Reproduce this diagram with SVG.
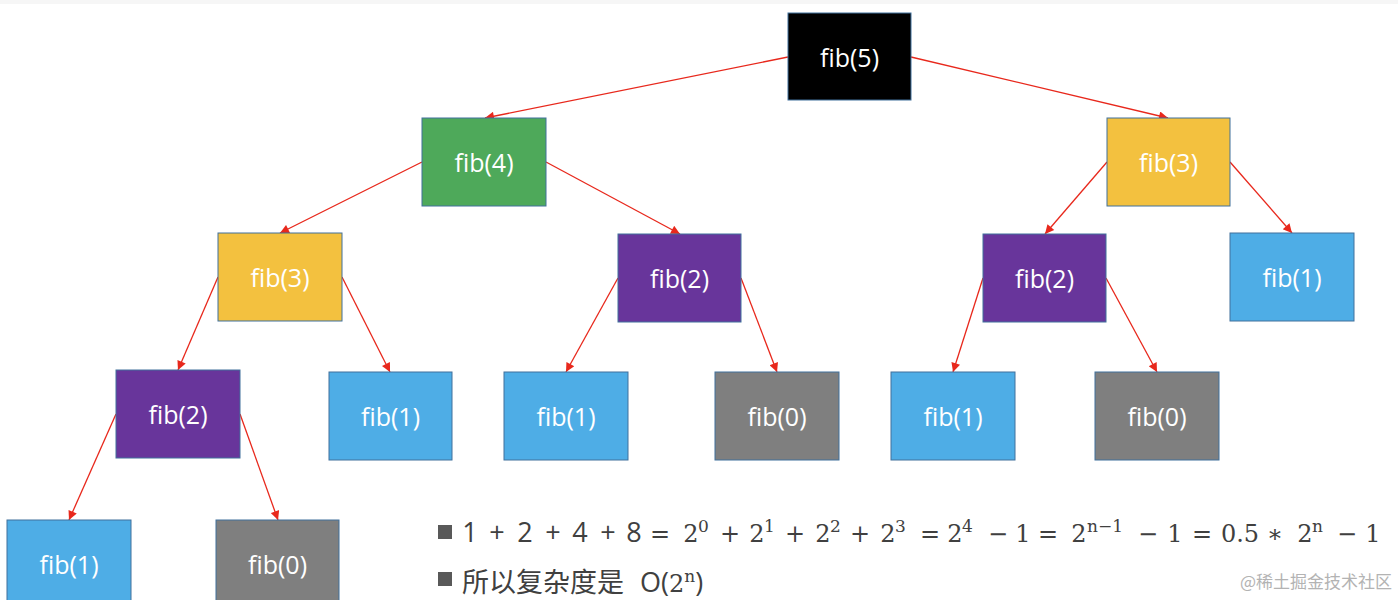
<svg xmlns="http://www.w3.org/2000/svg" width="1398" height="600" viewBox="0 0 1398 600">
<style>
.box{stroke:#41719c;stroke-width:1}
.lbl{font-family:"Open Sans","Noto Sans",sans-serif;font-size:25px;fill:#ffffff;text-anchor:middle;dominant-baseline:central}
.edge{stroke:#e8281c;stroke-width:1.3;fill:none;marker-end:url(#ah)}
.m{font-family:"DejaVu Serif","Liberation Serif",serif;font-size:24px;fill:#404040;text-anchor:middle}
.s{font-family:"Open Sans","Noto Sans",sans-serif;font-size:27px;fill:#404040;text-anchor:middle}
.sup{font-family:"DejaVu Serif","Liberation Serif",serif;font-size:17px;fill:#404040}
.bul{fill:#595959}
</style>
<defs>
<marker id="ah" viewBox="0 0 10 10" refX="10" refY="5" markerWidth="11" markerHeight="9" markerUnits="userSpaceOnUse" orient="auto">
<path d="M0,0 L10,5 L0,10 z" fill="#e8281c"/>
</marker>
</defs>
<rect x="0" y="0" width="1398" height="4" fill="#f6f6f6"/>
<g id="connectors">
<line class="edge" x1="788" y1="57" x2="485" y2="118"/>
<line class="edge" x1="911" y1="57" x2="1168" y2="118"/>
<line class="edge" x1="422" y1="162" x2="280" y2="233"/>
<line class="edge" x1="546" y1="162" x2="680" y2="234"/>
<line class="edge" x1="1107" y1="162" x2="1045" y2="234"/>
<line class="edge" x1="1230" y1="162" x2="1292" y2="233"/>
<line class="edge" x1="218" y1="277" x2="178" y2="370"/>
<line class="edge" x1="342" y1="277" x2="390" y2="372"/>
<line class="edge" x1="618" y1="278" x2="566" y2="372"/>
<line class="edge" x1="741" y1="278" x2="777" y2="372"/>
<line class="edge" x1="983" y1="278" x2="953" y2="372"/>
<line class="edge" x1="1106" y1="278" x2="1157" y2="372"/>
<line class="edge" x1="116" y1="414" x2="69" y2="520"/>
<line class="edge" x1="240" y1="414" x2="278" y2="520"/>
</g>
<g id="fib5"><rect class="box" x="788" y="13" width="123" height="87" fill="#000000"/><text class="lbl" x="849.5" y="57">fib(5)</text></g>
<g id="fib4"><rect class="box" x="422" y="118" width="124" height="88" fill="#4ea95a"/><text class="lbl" x="484" y="162">fib(4)</text></g>
<g id="fib3r"><rect class="box" x="1107" y="118" width="123" height="88" fill="#f3c13f"/><text class="lbl" x="1168.5" y="162">fib(3)</text></g>
<g id="fib3l"><rect class="box" x="218" y="233" width="124" height="88" fill="#f3c13f"/><text class="lbl" x="280" y="277">fib(3)</text></g>
<g id="fib2m"><rect class="box" x="618" y="234" width="123" height="88" fill="#68359b"/><text class="lbl" x="679.5" y="278">fib(2)</text></g>
<g id="fib2r"><rect class="box" x="983" y="234" width="123" height="88" fill="#68359b"/><text class="lbl" x="1044.5" y="278">fib(2)</text></g>
<g id="fib1r"><rect class="box" x="1230" y="233" width="124" height="88" fill="#4eade6"/><text class="lbl" x="1292" y="277">fib(1)</text></g>
<g id="fib2l"><rect class="box" x="116" y="370" width="124" height="88" fill="#68359b"/><text class="lbl" x="178" y="414">fib(2)</text></g>
<g id="fib1a"><rect class="box" x="329" y="372" width="123" height="88" fill="#4eade6"/><text class="lbl" x="390.5" y="416">fib(1)</text></g>
<g id="fib1b"><rect class="box" x="504" y="372" width="124" height="88" fill="#4eade6"/><text class="lbl" x="566" y="416">fib(1)</text></g>
<g id="fib0a"><rect class="box" x="715" y="372" width="124" height="88" fill="#7f7f7f"/><text class="lbl" x="777" y="416">fib(0)</text></g>
<g id="fib1c"><rect class="box" x="891" y="372" width="124" height="88" fill="#4eade6"/><text class="lbl" x="953" y="416">fib(1)</text></g>
<g id="fib0b"><rect class="box" x="1095" y="372" width="124" height="88" fill="#7f7f7f"/><text class="lbl" x="1157" y="416">fib(0)</text></g>
<g id="fib1d"><rect class="box" x="7" y="520" width="124" height="88" fill="#4eade6"/><text class="lbl" x="69" y="564">fib(1)</text></g>
<g id="fib0c"><rect class="box" x="216" y="520" width="123" height="88" fill="#7f7f7f"/><text class="lbl" x="277.5" y="564">fib(0)</text></g>
<g id="notes">
<rect class="bul" x="438" y="525" width="14" height="14"/>
<text class="s" y="542"><tspan x="470">1</tspan><tspan x="497">+</tspan><tspan x="525">2</tspan><tspan x="553">+</tspan><tspan x="580">4</tspan><tspan x="608">+</tspan><tspan x="634">8</tspan></text>
<text class="m" y="542"><tspan x="660">=</tspan><tspan x="691">2</tspan><tspan x="730">+</tspan><tspan x="757">2</tspan><tspan x="795">+</tspan><tspan x="823">2</tspan><tspan x="860">+</tspan><tspan x="888">2</tspan><tspan x="930">=</tspan><tspan x="955">2</tspan><tspan x="998">−</tspan><tspan x="1023">1</tspan><tspan x="1048">=</tspan><tspan x="1079">2</tspan><tspan x="1148">−</tspan><tspan x="1175">1</tspan><tspan x="1202">=</tspan><tspan x="1240">0.5</tspan><tspan x="1275">∗</tspan><tspan x="1305">2</tspan><tspan x="1347">−</tspan><tspan x="1373">1</tspan></text>
<text class="sup" y="532"><tspan x="698">0</tspan><tspan x="764">1</tspan><tspan x="830">2</tspan><tspan x="895">3</tspan><tspan x="962">4</tspan><tspan x="1087">n−1</tspan><tspan x="1312">n</tspan></text>
<rect class="bul" x="438" y="572" width="14" height="14"/>
<text y="592" font-family="Open Sans, Noto Sans CJK SC, sans-serif" font-size="27" fill="#404040"><tspan x="462" font-family="Noto Sans CJK SC, sans-serif">所以复杂度是</tspan><tspan x="640">O(</tspan><tspan font-family="DejaVu Serif, serif" font-size="24">2</tspan><tspan font-family="DejaVu Serif, serif" font-size="17" dy="-10">n</tspan><tspan dy="10">)</tspan></text>
<text x="1392" y="588" font-family="Noto Sans CJK SC, sans-serif" font-size="17" fill="#b3b3b3" text-anchor="end">@稀土掘金技术社区</text>
</g>
</svg>
